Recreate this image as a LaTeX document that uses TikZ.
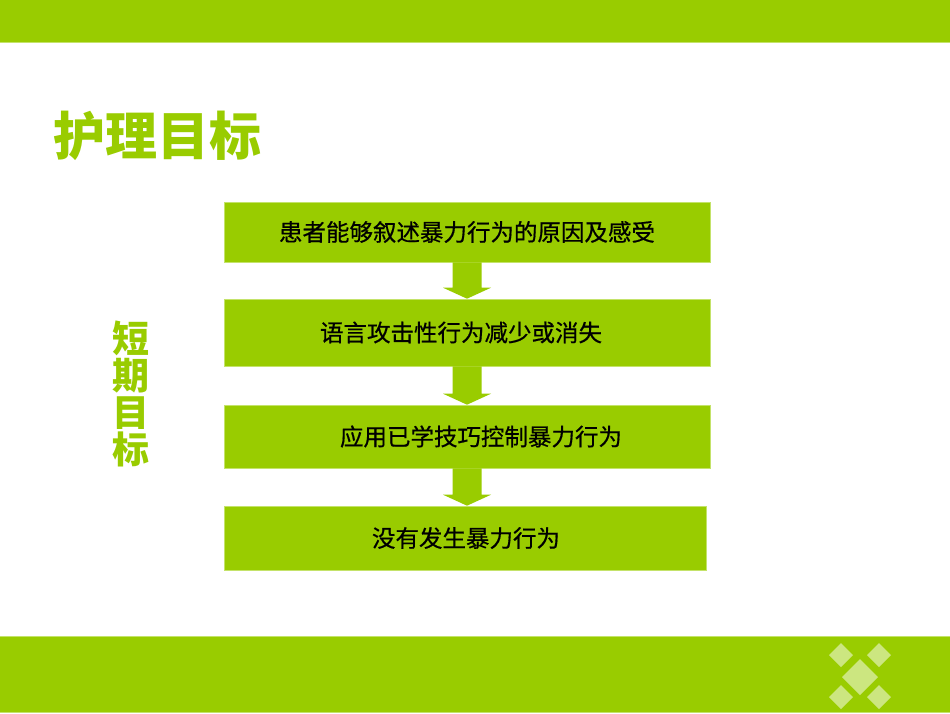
\documentclass[tikz,border=0pt]{standalone}
\usepackage{fontspec}
\newfontfamily\cjk{Noto Sans CJK SC}
\newfontfamily\cjkfb[FakeBold=0.6]{Noto Sans CJK SC}
\usetikzlibrary{calc}
\definecolor{lime}{HTML}{99CC00}
\definecolor{limeedge}{HTML}{C4E36A}
\definecolor{limelight}{HTML}{CCE680}
\tikzset{
  goalbox/.style={rectangle, fill=lime, draw=limeedge, line width=0.6pt, inner sep=0pt,
    font=\cjkfb\fontsize{23.5}{26}\selectfont, text=black},
  flowarrow/.style={fill=lime},
  gem/.style={fill=limelight}
}
\begin{document}
\begin{tikzpicture}[x=1pt,y=-1pt]
\useasboundingbox (0,0) rectangle (950,713);
\fill[white] (0,0) rectangle (950,713);
% bars
\fill[lime] (0,0) rectangle (950,42);
\draw[limeedge, line width=0.8pt] (0,42) -- (950,42);
\fill[lime] (0,636) rectangle (950,712);
\draw[limeedge, line width=0.8pt] (0,636) -- (950,636);
\draw[limeedge, line width=0.8pt] (0,712.5) -- (950,712.5);
% diamonds
\fill[gem] (860,659) -- (878,677) -- (860,695) -- (842,677) -- cycle;
\fill[gem] (841,643) -- (853,655) -- (841,667) -- (829,655) -- cycle;
\fill[gem] (879,643) -- (891,655) -- (879,667) -- (867,655) -- cycle;
\fill[gem] (841,685) -- (853,697) -- (841,709) -- (829,697) -- cycle;
\fill[gem] (879,685) -- (891,697) -- (879,709) -- (867,697) -- cycle;
% title
\node[anchor=west, inner sep=0pt, text=lime, font=\cjk\bfseries\fontsize{52}{52}\selectfont] (title) at (53,136) {护理目标};
\node[inner sep=0pt, align=center, text=lime, font=\cjk\bfseries\fontsize{37}{37}\selectfont] (short) at (131,394) {短\\期\\目\\标};
% boxes
\node[goalbox, minimum width=486, minimum height=60] (b1) at (467,232) {患者能够叙述暴力行为的原因及感受};
\node[goalbox, minimum width=486, minimum height=67] (b2) at (467,332.5) {语言攻击性行为减少或消失\hspace*{12pt}};
\node[goalbox, minimum width=486, minimum height=63] (b3) at (467,436.5) {\hspace*{28pt}应用已学技巧控制暴力行为};
\node[goalbox, minimum width=482, minimum height=64] (b4) at (465,538) {\hspace*{2pt}没有发生暴力行为};
% arrows
\foreach \a/\b in {b1/b2, b2/b3, b3/b4}{
  \coordinate (tip) at (\a.south |- \b.north);
  \fill[flowarrow] ($(\a.south)+(-14.5,0)$) -- ($(tip)+(-14.5,-11)$) -- ($(tip)+(-24,-11)$) -- (tip)
    -- ($(tip)+(24,-11)$) -- ($(tip)+(14.5,-11)$) -- ($(\a.south)+(14.5,0)$) -- cycle;
}
\end{tikzpicture}
\end{document}
